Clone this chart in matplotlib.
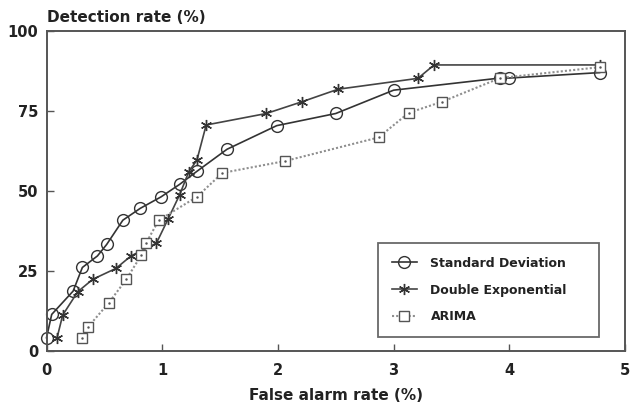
import matplotlib
matplotlib.use("Agg")
import matplotlib.pyplot as plt

# False alarm rate (%) vs detection rate (%) for three detection methods
sd_x = [0.0, 0.045, 0.23, 0.31, 0.44, 0.52, 0.66, 0.81, 0.99, 1.15, 1.30, 1.56, 1.99, 2.50, 3.00, 3.92, 4.00, 4.78]
sd_y = [4.0, 11.3, 18.6, 26.0, 29.6, 33.2, 40.8, 44.5, 48.1, 52.0, 56.1, 63.0, 70.4, 74.2, 81.5, 85.3, 85.3, 87.0]

de_x = [0.09, 0.14, 0.27, 0.40, 0.60, 0.73, 0.95, 1.05, 1.15, 1.23, 1.30, 1.38, 1.90, 2.21, 2.52, 3.21, 3.35, 4.78]
de_y = [3.8, 11.1, 18.4, 22.3, 25.7, 29.6, 33.6, 41.1, 48.7, 56.0, 59.6, 70.6, 74.2, 77.9, 81.8, 85.2, 89.4, 89.4]

ar_x = [0.31, 0.36, 0.54, 0.69, 0.82, 0.86, 0.97, 1.30, 1.52, 2.06, 2.87, 3.13, 3.42, 3.92, 4.78]
ar_y = [3.8, 7.4, 15.0, 22.3, 29.9, 33.6, 40.8, 48.1, 55.6, 59.3, 66.7, 74.4, 77.9, 85.3, 88.7]

x_ticks = [0, 1, 2, 3, 4, 5]
y_ticks = [0, 25, 50, 75, 100]

plt.rcParams["font.family"] = ["DejaVu Sans"]

fig = plt.figure(figsize=(6.31, 4.09), dpi=100)
ax = fig.add_axes([0.0737, 0.143, 0.9168, 0.781])

ax.plot(sd_x, sd_y, color="#333333", lw=1.2, marker="o", ms=8.5, mfc="none",
        mec="#333333", mew=1.0, label="Standard Deviation", clip_on=False)
ax.plot(de_x, de_y, color="#444444", lw=1.2, marker=(6, 2, 0), ms=8,
        mec="#333333", mew=1.0, label="Double Exponential", clip_on=False)
ax.plot(ar_x, ar_y, color="#8f8f8f", lw=1.5, ls=(0, (1, 1)), marker="s", ms=6.5,
        mfc="white", mec="#555555", mew=1.0, label="ARIMA", clip_on=False)
ax.plot(ar_x, ar_y, ls="none", marker=".", ms=1.5, color="#555555")

ax.set_xlim(0, 5)
ax.set_ylim(0, 100)
ax.set_xticks(x_ticks)
ax.set_yticks(y_ticks)
ax.tick_params(direction="in", length=5, width=1, color="#555555",
               labelsize=10.5, pad=6)
ax.tick_params(axis="x", pad=9)
for lbl in ax.get_xticklabels() + ax.get_yticklabels():
    lbl.set_fontweight("bold")
    lbl.set_color("#222222")
for s in ax.spines.values():
    s.set_color("#555555")
    s.set_linewidth(1.4)

ax.set_xlabel("False alarm rate (%)", fontsize=11, fontweight="bold",
              color="#222222", labelpad=7)
fig.text(0.0745, 0.958, "Detection rate (%)", fontsize=11, fontweight="bold",
         color="#222222", ha="left", va="center")

leg = ax.legend(loc="lower left", bbox_to_anchor=(0.573, 0.042, 0.382, 0.291),
                mode="expand", borderaxespad=0, fontsize=9.0,
                frameon=True, fancybox=False, edgecolor="#444444",
                handlelength=2.0, borderpad=1.1, labelspacing=1.1,
                handletextpad=1.1)
leg.get_frame().set_linewidth(1.3)
for t in leg.get_texts():
    t.set_fontweight("bold")
    t.set_color("#222222")

fig.savefig("out.png", dpi=100, facecolor="white")
